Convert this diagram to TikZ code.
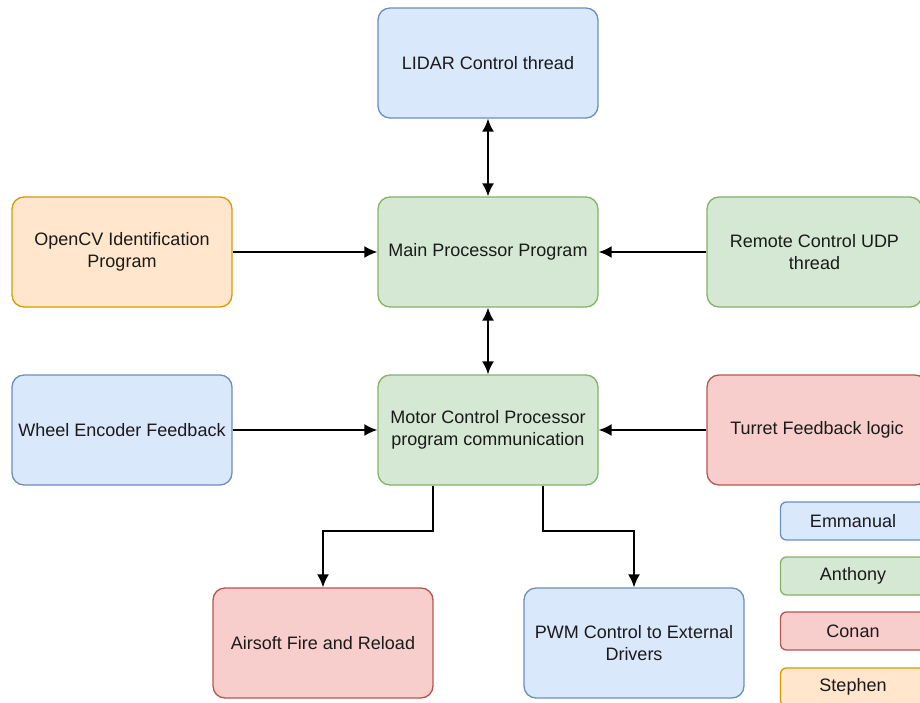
\documentclass[tikz,border=0pt]{standalone}
\usepackage{fontspec}
\setmainfont{Liberation Sans}
\usetikzlibrary{arrows.meta,positioning}
\definecolor{blueFill}{HTML}{DAE8FC}
\definecolor{blueLine}{HTML}{6C8EBF}
\definecolor{greenFill}{HTML}{D5E8D4}
\definecolor{greenLine}{HTML}{82B366}
\definecolor{redFill}{HTML}{F8CECC}
\definecolor{redLine}{HTML}{B85450}
\definecolor{orangeFill}{HTML}{FFE6CC}
\definecolor{orangeLine}{HTML}{D79B00}
\definecolor{textGrey}{HTML}{1A1A1A}

\begin{document}
\begin{tikzpicture}[
    x=1pt, y=1pt,
    block/.style={rectangle, rounded corners=12pt, line width=1.3pt, minimum width=220pt, minimum height=110pt, align=center, text=textGrey, font=\fontsize{18}{22}\selectfont},
    emma/.style={block, draw=blueLine, fill=blueFill},
    anth/.style={block, draw=greenLine, fill=greenFill},
    conan/.style={block, draw=redLine, fill=redFill},
    steph/.style={block, draw=orangeLine, fill=orangeFill},
    legend/.style={minimum width=145pt, minimum height=38pt, rounded corners=6pt},
    arrow/.style={-{Latex[length=13pt,width=12pt]}, line width=1.8pt, black},
    twoway/.style={{Latex[length=13pt,width=12pt]}-{Latex[length=13pt,width=12pt]}, line width=1.8pt, black}
]
\useasboundingbox (0,0) rectangle (920,-703);

% Row 1: LIDAR
\node[emma] (lidar) at (488,-63) {LIDAR Control thread};

% Row 2: Main processor
\node[anth] (main) at (488,-252) {Main Processor Program};
\node[steph] (opencv) at (122,-252) {OpenCV Identification\\Program};
\node[anth, minimum width=215pt] (remote) at (814.5,-252) {Remote Control UDP\\thread};

% Row 3: Motor control
\node[anth] (motor) at (488,-430) {Motor Control Processor\\program communication};
\node[emma] (wheel) at (122,-430) {Wheel Encoder Feedback};
\node[conan] (turret) at (817,-430) {Turret Feedback logic};

% Row 4: Outputs
\node[conan] (airsoft) at (323,-643) {Airsoft Fire and Reload};
\node[emma] (pwm) at (634,-643) {PWM Control to External\\Drivers};

% Legend
\node[emma, legend] (lgEmma) at (853,-521) {Emmanual};
\node[anth, legend] (lgAnth) at (853,-576) {Anthony};
\node[conan, legend] (lgConan) at (853,-631) {Conan};
\node[steph, legend] (lgSteph) at (853,-687) {Stephen};

% Connections
\draw[twoway] (lidar) -- (main);
\draw[twoway] (main) -- (motor);
\draw[arrow] (opencv) -- (main);
\draw[arrow] (remote) -- (main);
\draw[arrow] (wheel) -- (motor);
\draw[arrow] (turret) -- (motor);
\draw[arrow] ([xshift=-55pt]motor.south) -- ++(0,-45) -| (airsoft.north);
\draw[arrow] ([xshift=55pt]motor.south) -- ++(0,-45) -| (pwm.north);

\end{tikzpicture}
\end{document}
